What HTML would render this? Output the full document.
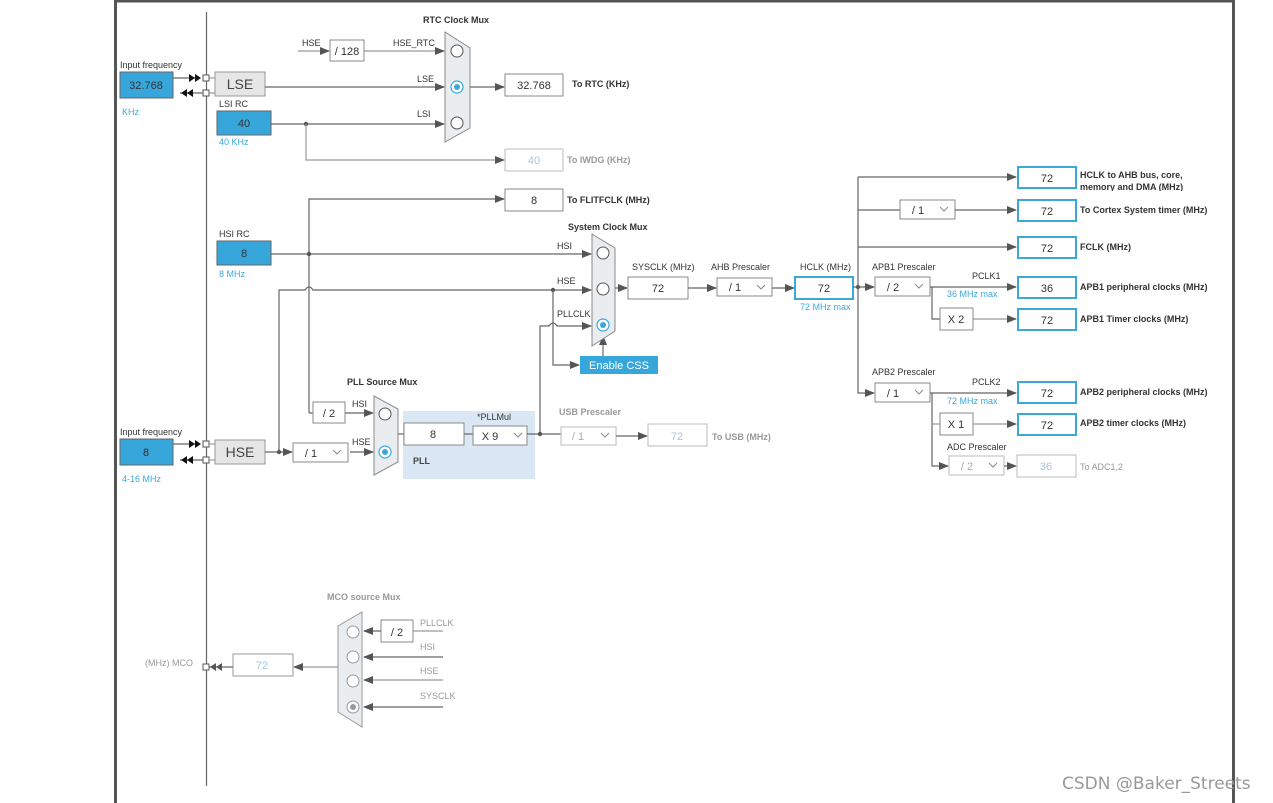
<!DOCTYPE html>
<html><head><meta charset="utf-8"><style>
html,body{margin:0;padding:0;background:#fff;}
svg{display:block;font-family:"Liberation Sans",Arial,sans-serif;}
.t{font-size:9px;fill:#333;}
.b{font-size:9px;fill:#333;font-weight:bold;}
.g{font-size:9px;fill:#999;}
.gb{font-size:9px;fill:#999;font-weight:bold;}
.bl{font-size:9px;fill:#3aa8dc;}
.v{font-size:11px;fill:#333;text-anchor:middle;}
.vg{font-size:11px;fill:#a9c4dc;text-anchor:middle;}
.ln{stroke:#666;stroke-width:1.2;fill:none;}
.lg{stroke:#999;stroke-width:1.2;fill:none;}
.bx{fill:#fff;stroke:#888;stroke-width:1;}
.bxg{fill:#fff;stroke:#bbb;stroke-width:1;}
.bxb{fill:#fff;stroke:#3aa8dc;stroke-width:2;}
.blue{fill:#37a7db;stroke:#666;stroke-width:1;}
.mux{fill:#e9edf0;stroke:#888;stroke-width:1;}
.c{fill:#fff;stroke:#555;stroke-width:1;}
.cs{fill:#fff;stroke:#3aa8dc;stroke-width:1.2;}
.chev{fill:none;stroke:#888;stroke-width:1;}
</style></head><body>
<svg width="1273" height="803" viewBox="0 0 1273 803" xmlns="http://www.w3.org/2000/svg">
<defs>
<marker id="a" markerWidth="10" markerHeight="8" refX="9" refY="4" orient="auto" markerUnits="userSpaceOnUse"><path d="M0,0 L10,4 L0,8 z" fill="#555"/></marker>
</defs>
<line x1="115.5" y1="0" x2="115.5" y2="803" stroke="#555" stroke-width="3"/>
<line x1="114" y1="1" x2="1235" y2="1" stroke="#555" stroke-width="3"/>
<line x1="1233.5" y1="0" x2="1233.5" y2="803" stroke="#555" stroke-width="3"/>
<line x1="206.5" y1="12" x2="206.5" y2="786" stroke="#666" stroke-width="1.2"/>

<text class="t" x="120" y="68">Input frequency</text>
<rect class="blue" x="120" y="72" width="53" height="26"/>
<text class="v" x="146" y="89">32.768</text>
<text class="bl" x="122" y="115">KHz</text>
<line class="ln" x1="173" y1="78" x2="200" y2="78"/>
<path d="M189,74 L195,78 L189,82z M195,74 L201,78 L195,82z" fill="#111"/>
<line class="ln" x1="180" y1="93" x2="203" y2="93"/>
<path d="M181,93 L187,89 L187,97z M187,93 L193,89 L193,97z" fill="#111"/>
<rect x="203" y="75" width="6" height="6" fill="#fff" stroke="#555"/>
<rect x="203" y="90" width="6" height="6" fill="#fff" stroke="#555"/>
<line class="lg" x1="209" y1="78" x2="215" y2="78"/>
<line class="lg" x1="209" y1="93" x2="215" y2="93"/>
<rect x="215" y="72" width="50" height="24" fill="#e6e6e6" stroke="#999"/>
<text x="240" y="89" font-size="14" fill="#444" text-anchor="middle">LSE</text>
<line class="ln" x1="265" y1="87" x2="444" y2="87" marker-end="url(#a)"/>
<text class="t" x="417" y="82">LSE</text>

<text class="t" x="219" y="107">LSI RC</text>
<rect class="blue" x="217" y="111" width="54" height="24"/>
<text class="v" x="244" y="127">40</text>
<text class="bl" x="219" y="145">40 KHz</text>
<line class="ln" x1="271" y1="124" x2="444" y2="124" marker-end="url(#a)"/>
<text class="t" x="417" y="117">LSI</text>
<circle cx="306" cy="124" r="2.2" fill="#555"/>
<path class="lg" d="M306,124 V160 H504" marker-end="url(#a)"/>
<rect class="bxg" x="505" y="149" width="58" height="22"/>
<text class="vg" x="534" y="164">40</text>
<text class="gb" x="567" y="163">To IWDG (KHz)</text>

<text class="t" x="302" y="46">HSE</text>
<line class="lg" x1="298" y1="51" x2="329" y2="51" marker-end="url(#a)"/>
<rect class="bx" x="330" y="40" width="34" height="21"/>
<text class="v" x="347" y="55">/ 128</text>
<line class="lg" x1="364" y1="51" x2="444" y2="51" marker-end="url(#a)"/>
<text class="t" x="393" y="46">HSE_RTC</text>

<text class="b" x="423" y="23">RTC Clock Mux</text>
<polygon class="mux" points="445,32 470,48 470,128 445,142"/>
<circle class="c" cx="457" cy="51" r="6"/>
<circle class="cs" cx="457" cy="87" r="6"/><circle cx="457" cy="87" r="3" fill="#3aa8dc"/>
<circle class="c" cx="457" cy="123" r="6"/>
<line class="ln" x1="470" y1="87" x2="504" y2="87" marker-end="url(#a)"/>
<rect class="bx" x="505" y="74" width="58" height="22"/>
<text class="v" x="534" y="89">32.768</text>
<text class="b" x="572" y="87">To RTC (KHz)</text>

<path class="ln" d="M309,413 V199 H504" marker-end="url(#a)"/>
<rect class="bx" x="505" y="189" width="58" height="22"/>
<text class="v" x="534" y="204">8</text>
<text class="b" x="567" y="203">To FLITFCLK (MHz)</text>

<text class="t" x="219" y="237">HSI RC</text>
<rect class="blue" x="217" y="241" width="54" height="24"/>
<text class="v" x="244" y="257">8</text>
<text class="bl" x="219" y="277">8 MHz</text>
<line class="ln" x1="271" y1="254" x2="591" y2="254" marker-end="url(#a)"/>
<circle cx="309" cy="254" r="2.2" fill="#555"/>
<text class="t" x="557" y="249">HSI</text>

<text class="t" x="120" y="435">Input frequency</text>
<rect class="blue" x="120" y="439" width="53" height="26"/>
<text class="v" x="146" y="456">8</text>
<text class="bl" x="122" y="482">4-16 MHz</text>
<line class="ln" x1="173" y1="444" x2="200" y2="444"/>
<path d="M189,440 L195,444 L189,448z M195,440 L201,444 L195,448z" fill="#111"/>
<line class="ln" x1="180" y1="460" x2="203" y2="460"/>
<path d="M181,460 L187,456 L187,464z M187,460 L193,456 L193,464z" fill="#111"/>
<rect x="203" y="441" width="6" height="6" fill="#fff" stroke="#555"/>
<rect x="203" y="457" width="6" height="6" fill="#fff" stroke="#555"/>
<line class="lg" x1="209" y1="444" x2="215" y2="444"/>
<line class="lg" x1="209" y1="460" x2="215" y2="460"/>
<rect x="215" y="440" width="50" height="24" fill="#e6e6e6" stroke="#999"/>
<text x="240" y="457" font-size="14" fill="#444" text-anchor="middle">HSE</text>
<line class="ln" x1="265" y1="452" x2="292" y2="452" marker-end="url(#a)"/>
<circle cx="279" cy="452" r="2.2" fill="#555"/>
<path class="ln" d="M279,452 V290 H305 q4,-6 8,0 H591" marker-end="url(#a)"/>
<text class="t" x="557" y="284">HSE</text>
<circle cx="553" cy="290" r="2.2" fill="#555"/>
<path class="ln" d="M553,290 V365 H579" marker-end="url(#a)"/>
<rect x="580" y="356" width="78" height="18" fill="#37a7db"/>
<text x="619" y="369" font-size="11" fill="#fff" text-anchor="middle">Enable CSS</text>
<line class="ln" x1="603" y1="356" x2="603" y2="336" marker-end="url(#a)"/>

<path class="ln" d="M540,434 V326 H549 q4,-6 8,0 H591" marker-end="url(#a)"/>
<text class="t" x="557" y="317">PLLCLK</text>

<text class="b" x="568" y="230">System Clock Mux</text>
<polygon class="mux" points="592,234 615,248 615,331 592,346"/>
<circle class="c" cx="603" cy="253" r="6"/>
<circle class="c" cx="603" cy="289" r="6"/>
<circle class="cs" cx="603" cy="325" r="6"/><circle cx="603" cy="325" r="3" fill="#3aa8dc"/>
<line class="ln" x1="615" y1="288" x2="627" y2="288" marker-end="url(#a)"/>
<text class="t" x="632" y="270">SYSCLK (MHz)</text>
<rect class="bx" x="628" y="277" width="60" height="22"/>
<text class="v" x="658" y="292">72</text>
<line class="ln" x1="688" y1="288" x2="716" y2="288" marker-end="url(#a)"/>
<text class="t" x="711" y="270">AHB Prescaler</text>
<rect class="bx" x="717" y="278" width="55" height="18"/>
<text class="v" x="735" y="291">/ 1</text><path class="chev" d="M757,285 l4,4 l4,-4"/>
<line class="ln" x1="772" y1="288" x2="794" y2="288" marker-end="url(#a)"/>
<text class="t" x="800" y="270">HCLK (MHz)</text>
<rect class="bxb" x="795" y="277" width="58" height="22"/>
<text class="v" x="824" y="292">72</text>
<text class="bl" x="800" y="310">72 MHz max</text>

<line class="ln" x1="853" y1="287" x2="874" y2="287" marker-end="url(#a)"/>
<circle cx="858" cy="287" r="2.2" fill="#555"/>
<path class="ln" d="M858,177 V393 H874" marker-end="url(#a)"/>
<line class="ln" x1="858" y1="177" x2="1016" y2="177" marker-end="url(#a)"/>
<line class="ln" x1="858" y1="210" x2="900" y2="210"/>
<rect class="bx" x="900" y="200" width="55" height="19"/>
<text class="v" x="918" y="214">/ 1</text><path class="chev" d="M940,207 l4,4 l4,-4"/>
<line class="ln" x1="955" y1="210" x2="1016" y2="210" marker-end="url(#a)"/>
<line class="ln" x1="858" y1="247" x2="1016" y2="247" marker-end="url(#a)"/>

<text class="t" x="872" y="270">APB1 Prescaler</text>
<rect class="bx" x="875" y="277" width="55" height="19"/>
<text class="v" x="893" y="291">/ 2</text><path class="chev" d="M915,284 l4,4 l4,-4"/>
<line class="ln" x1="930" y1="287" x2="1016" y2="287" marker-end="url(#a)"/>
<text class="t" x="972" y="279">PCLK1</text>
<text class="bl" x="947" y="297">36 MHz max</text>
<path class="ln" d="M932,287 V319 H940"/>
<rect class="bx" x="940" y="308" width="33" height="22"/>
<text class="v" x="956" y="323">X 2</text>
<line class="lg" x1="973" y1="319" x2="1016" y2="319" marker-end="url(#a)"/>

<text class="t" x="872" y="375">APB2 Prescaler</text>
<rect class="bx" x="875" y="383" width="55" height="19"/>
<text class="v" x="893" y="397">/ 1</text><path class="chev" d="M915,390 l4,4 l4,-4"/>
<line class="ln" x1="930" y1="393" x2="1016" y2="393" marker-end="url(#a)"/>
<text class="t" x="972" y="385">PCLK2</text>
<text class="bl" x="947" y="404">72 MHz max</text>
<path class="ln" d="M932,393 V466 H948" marker-end="url(#a)"/>
<line class="lg" x1="932" y1="424" x2="940" y2="424"/>
<rect class="bx" x="940" y="413" width="33" height="22"/>
<text class="v" x="956" y="428">X 1</text>
<line class="lg" x1="973" y1="424" x2="1016" y2="424" marker-end="url(#a)"/>
<text class="t" x="947" y="450">ADC Prescaler</text>
<rect class="bxg" x="949" y="456" width="55" height="19"/>
<text class="vg" x="967" y="470" style="fill:#aaa">/ 2</text><path class="chev" d="M989,463 l4,4 l4,-4" stroke="#bbb"/>
<line class="ln" x1="1004" y1="466" x2="1016" y2="466" marker-end="url(#a)"/>
<rect class="bxg" x="1017" y="455" width="59" height="22"/>
<text class="vg" x="1046" y="470">36</text>
<text class="g" x="1080" y="470">To ADC1,2</text>

<rect class="bxb" x="1018" y="167" width="58" height="21"/><text class="v" x="1047" y="182">72</text>
<rect class="bxb" x="1018" y="200" width="58" height="21"/><text class="v" x="1047" y="215">72</text>
<rect class="bxb" x="1018" y="237" width="58" height="21"/><text class="v" x="1047" y="252">72</text>
<rect class="bxb" x="1018" y="277" width="58" height="21"/><text class="v" x="1047" y="292">36</text>
<rect class="bxb" x="1018" y="309" width="58" height="21"/><text class="v" x="1047" y="324">72</text>
<rect class="bxb" x="1018" y="382" width="58" height="21"/><text class="v" x="1047" y="397">72</text>
<rect class="bxb" x="1018" y="414" width="58" height="21"/><text class="v" x="1047" y="429">72</text>
<text class="b" x="1080" y="178">HCLK to AHB bus, core,</text>
<clipPath id="cl"><rect x="1078" y="183" width="150" height="8"/></clipPath>
<text class="b" x="1080" y="190" clip-path="url(#cl)">memory and DMA (MHz)</text>
<text class="b" x="1080" y="213">To Cortex System timer (MHz)</text>
<text class="b" x="1080" y="250">FCLK (MHz)</text>
<text class="b" x="1080" y="290">APB1 peripheral clocks (MHz)</text>
<text class="b" x="1080" y="322">APB1 Timer clocks (MHz)</text>
<text class="b" x="1080" y="395">APB2 peripheral clocks (MHz)</text>
<text class="b" x="1080" y="426">APB2 timer clocks (MHz)</text>

<text class="b" x="347" y="385">PLL Source Mux</text>
<line class="ln" x1="309" y1="413" x2="313" y2="413"/>
<rect class="bx" x="313" y="402" width="32" height="21"/>
<text class="v" x="329" y="417">/ 2</text>
<line class="ln" x1="345" y1="413" x2="373" y2="413" marker-end="url(#a)"/>
<text class="t" x="352" y="407">HSI</text>
<rect class="bx" x="293" y="443" width="55" height="19"/>
<text class="v" x="311" y="457">/ 1</text><path class="chev" d="M333,450 l4,4 l4,-4"/>
<line class="ln" x1="350" y1="452" x2="373" y2="452" marker-end="url(#a)"/>
<text class="t" x="352" y="445">HSE</text>
<polygon class="mux" points="374,396 398,409 398,462 374,475"/>
<circle class="c" cx="385" cy="414" r="6"/>
<circle class="cs" cx="385" cy="452" r="6"/><circle cx="385" cy="452" r="3" fill="#3aa8dc"/>

<rect x="403" y="411" width="132" height="68" fill="#dae8f5"/>
<line class="ln" x1="398" y1="434" x2="404" y2="434"/>
<rect class="bx" x="404" y="423" width="60" height="22"/>
<text class="v" x="433" y="438">8</text>
<line class="ln" x1="464" y1="434" x2="473" y2="434"/>
<text class="t" x="477" y="420">*PLLMul</text>
<rect class="bx" x="473" y="426" width="54" height="19"/>
<text class="v" x="490" y="440">X 9</text><path class="chev" d="M514,433 l4,4 l4,-4"/>
<text class="b" x="413" y="464" style="fill:#444">PLL</text>
<line class="ln" x1="527" y1="434" x2="561" y2="434"/>
<circle cx="540" cy="434" r="2.2" fill="#555"/>
<text class="gb" x="559" y="415">USB Prescaler</text>
<rect class="bxg" x="561" y="427" width="55" height="18"/>
<text class="vg" x="578" y="440" style="fill:#aaa">/ 1</text><path class="chev" d="M601,433 l4,4 l4,-4" stroke="#bbb"/>
<line class="ln" x1="616" y1="436" x2="647" y2="436" marker-end="url(#a)"/>
<rect class="bxg" x="648" y="424" width="59" height="22"/>
<text class="vg" x="677" y="440">72</text>
<text class="gb" x="712" y="440">To USB (MHz)</text>

<text class="gb" x="327" y="600">MCO source Mux</text>
<polygon class="mux" points="338,626 362,612 362,727 338,712" style="stroke:#999"/>
<circle class="c" cx="353" cy="632" r="6" style="stroke:#999"/>
<circle class="c" cx="353" cy="657" r="6" style="stroke:#999"/>
<circle class="c" cx="353" cy="681" r="6" style="stroke:#999"/>
<circle class="c" cx="353" cy="707" r="6" style="stroke:#999"/><circle cx="353" cy="707" r="3" fill="#999"/>
<line class="lg" x1="443" y1="631" x2="413" y2="631"/>
<rect class="bx" x="381" y="620" width="32" height="22"/>
<text class="v" x="397" y="636">/ 2</text>
<line class="ln" x1="381" y1="631" x2="364" y2="631" marker-end="url(#a)"/>
<line class="ln" x1="443" y1="657" x2="364" y2="657" marker-end="url(#a)"/>
<line class="lg" x1="443" y1="680" x2="364" y2="680" marker-end="url(#a)"/>
<line class="ln" x1="443" y1="707" x2="364" y2="707" marker-end="url(#a)"/>
<text class="g" x="420" y="626">PLLCLK</text>
<text class="g" x="420" y="650">HSI</text>
<text class="g" x="420" y="674">HSE</text>
<text class="g" x="420" y="699">SYSCLK</text>
<line class="lg" x1="338" y1="667" x2="294" y2="667" marker-end="url(#a)"/>
<rect class="bxg" x="233" y="654" width="60" height="22" style="stroke:#999"/>
<text class="vg" x="262" y="669">72</text>
<line class="ln" x1="233" y1="667" x2="209" y2="667"/>
<path d="M210,667 L216,663 L216,671z M216,667 L222,663 L222,671z" fill="#555"/>
<rect x="203" y="664" width="6" height="6" fill="#fff" stroke="#555"/>
<text class="g" x="145" y="666">(MHz) MCO</text>

<text x="1062" y="789" font-size="17" fill="#999" font-family="'DejaVu Sans',sans-serif">CSDN @Baker_Streets</text>
</svg>
</body></html>
